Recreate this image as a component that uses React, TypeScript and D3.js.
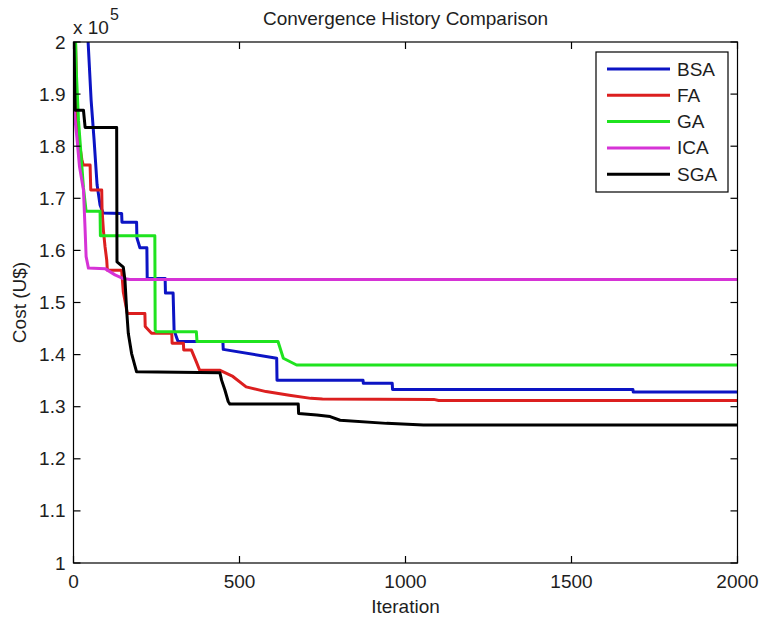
import * as d3 from 'd3'

// cost values are in units of 1e5 U$
const BSA: [number, number][] = [
  [0, 2.4], [30, 2.2], [44, 2.0], [53, 1.889], [62, 1.812], [71, 1.726], [80, 1.687], [89, 1.672],
  [145, 1.671], [146, 1.654], [190, 1.654], [191, 1.624], [200, 1.605], [221, 1.605], [222, 1.546],
  [276, 1.546], [277, 1.518], [300, 1.518], [303, 1.447], [311, 1.432], [315, 1.425], [450, 1.425],
  [451, 1.41], [612, 1.393], [613, 1.351], [872, 1.351], [873, 1.345], [960, 1.345], [961, 1.333],
  [1685, 1.333], [1686, 1.328], [2000, 1.328],
]
const FA: [number, number][] = [
  [0, 2.15], [8, 1.95], [10, 1.866], [12, 1.83], [25, 1.775], [29, 1.764], [50, 1.764], [52, 1.716],
  [85, 1.716], [86, 1.678], [90, 1.639], [95, 1.607], [100, 1.582], [102, 1.562], [145, 1.562],
  [150, 1.52], [160, 1.486], [162, 1.479], [215, 1.479], [216, 1.454], [235, 1.441], [296, 1.441],
  [297, 1.422], [331, 1.422], [332, 1.409], [355, 1.409], [370, 1.386], [380, 1.37], [440, 1.37],
  [480, 1.358], [520, 1.338], [580, 1.329], [650, 1.322], [715, 1.316], [750, 1.315], [1085, 1.314],
  [1100, 1.312], [2000, 1.312],
]
const GA: [number, number][] = [
  [0, 2.2], [8, 1.95], [15, 1.85], [30, 1.72], [38, 1.675], [80, 1.675], [81, 1.628], [245, 1.628],
  [246, 1.447], [250, 1.444], [370, 1.444], [372, 1.425], [616, 1.425], [632, 1.393], [672, 1.38],
  [2000, 1.38],
]
const ICA: [number, number][] = [
  [0, 1.88], [10, 1.818], [18, 1.761], [30, 1.716], [35, 1.639], [38, 1.588], [45, 1.566], [95, 1.565],
  [125, 1.553], [150, 1.546], [170, 1.544], [2000, 1.544],
]
const SGA: [number, number][] = [
  [0, 2.05], [5, 1.869], [30, 1.869], [35, 1.836], [130, 1.836], [131, 1.578], [150, 1.568],
  [155, 1.543], [160, 1.486], [165, 1.441], [175, 1.402], [190, 1.367], [441, 1.365], [446, 1.351],
  [456, 1.332], [466, 1.31], [471, 1.305], [677, 1.305], [678, 1.287], [733, 1.284], [773, 1.281],
  [803, 1.274], [943, 1.268], [1054, 1.265], [2000, 1.265],
]

const seriesNames = ['BSA', 'FA', 'GA', 'ICA', 'SGA']
const seriesData = [BSA, FA, GA, ICA, SGA]
const seriesColors = ['#0c14c4', '#dc1f1f', '#1fe31f', '#d633d6', '#000000']

const xTicks = [0, 500, 1000, 1500, 2000]
const yTicks = [1, 1.1, 1.2, 1.3, 1.4, 1.5, 1.6, 1.7, 1.8, 1.9, 2]

const W = 760
const H = 621
const FONT = '"Liberation Sans", Arial, sans-serif'
const TXT = '#1e1e1e'

export default function App() {
  const x = d3.scaleLinear().domain([0, 2000]).range([73.5, 737.5])
  const y = d3.scaleLinear().domain([1, 2]).range([563, 42])
  const [x0, x1] = x.range()
  const [y1, y0] = y.range()

  const line = d3.line<[number, number]>()
    .x(d => x(d[0]))
    .y(d => y(d[1]))

  const tick = 7
  const legend = { x: 596, y: 52, w: 132, h: 140, row: 26.3 }

  return (
    <svg width={W} height={H} style={{ position: 'absolute', left: 0, top: 0, background: '#fff' }}
      fontFamily={FONT} fontSize={19} fill={TXT}>
      <defs>
        <clipPath id="plot">
          <rect x={x0} y={y0} width={x1 - x0} height={y1 - y0} />
        </clipPath>
      </defs>
      <rect x={0} y={0} width={W} height={H} fill="#fff" />

      <g clipPath="url(#plot)">
        {seriesData.map((d, i) => (
          <path key={seriesNames[i]} d={line(d) || ''} fill="none" stroke={seriesColors[i]}
            strokeWidth={3} strokeLinejoin="round" />
        ))}
      </g>

      {/* box and ticks */}
      <rect x={x0} y={y0} width={x1 - x0} height={y1 - y0} fill="none" stroke="#000" strokeWidth={1.2} />
      {xTicks.map(t => (
        <g key={'x' + t} stroke="#000" strokeWidth={1.2}>
          <line x1={x(t)} x2={x(t)} y1={y1} y2={y1 - tick} />
          <line x1={x(t)} x2={x(t)} y1={y0} y2={y0 + tick} />
        </g>
      ))}
      {yTicks.map(t => (
        <g key={'y' + t} stroke="#000" strokeWidth={1.2}>
          <line x1={x0} x2={x0 + tick} y1={y(t)} y2={y(t)} />
          <line x1={x1} x2={x1 - tick} y1={y(t)} y2={y(t)} />
        </g>
      ))}

      {xTicks.map(t => (
        <text key={'xl' + t} x={x(t)} y={581} textAnchor="middle" dominantBaseline="central">{t}</text>
      ))}
      {yTicks.map(t => (
        <text key={'yl' + t} x={x0 - 8} y={y(t)} textAnchor="end" dominantBaseline="central">
          {d3.format('~g')(t)}
        </text>
      ))}

      <text x={73} y={27} dominantBaseline="central">x 10</text>
      <text x={110} y={14} fontSize={16} dominantBaseline="central">5</text>

      <text x={(x0 + x1) / 2} y={18} textAnchor="middle" dominantBaseline="central">
        Convergence History Comparison
      </text>
      <text x={(x0 + x1) / 2} y={606} textAnchor="middle" dominantBaseline="central">Iteration</text>
      <text transform={`translate(19,${(y0 + y1) / 2}) rotate(-90)`} textAnchor="middle"
        dominantBaseline="central">Cost (U$)</text>

      {/* legend */}
      <rect x={legend.x} y={legend.y} width={legend.w} height={legend.h} fill="#fff" stroke="#000" strokeWidth={1.2} />
      {seriesNames.map((name, i) => {
        const cy = legend.y + 17 + i * legend.row
        return (
          <g key={'lg' + name}>
            <line x1={legend.x + 11} x2={legend.x + 74} y1={cy} y2={cy} stroke={seriesColors[i]} strokeWidth={3} />
            <text x={legend.x + 81} y={cy} dominantBaseline="central">{name}</text>
          </g>
        )
      })}
    </svg>
  )
}
